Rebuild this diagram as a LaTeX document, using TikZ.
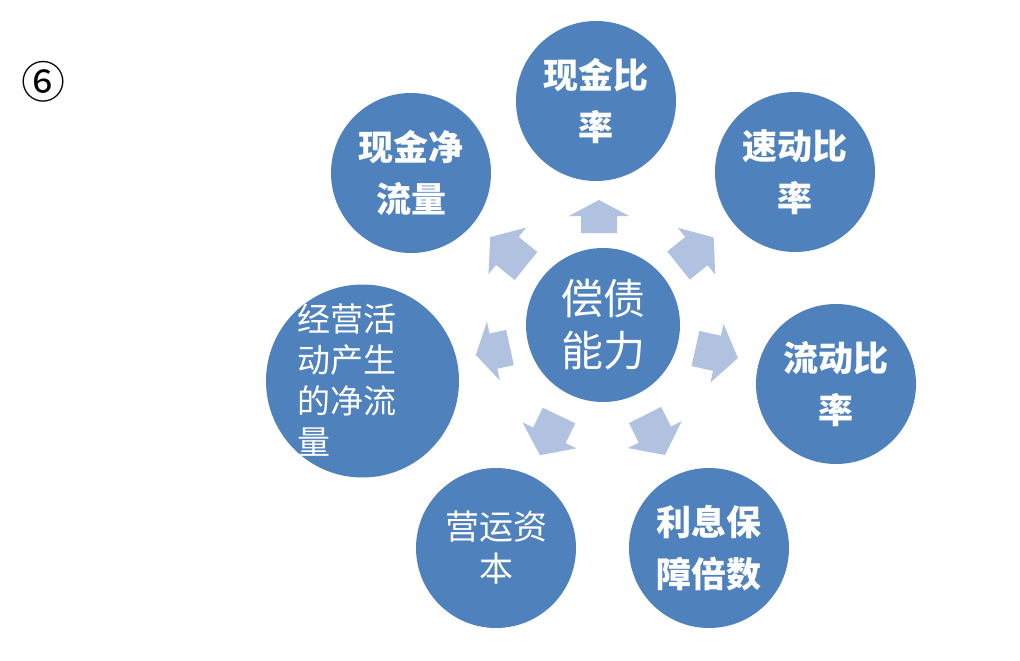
\documentclass[tikz,border=0pt]{standalone}
\usepackage{fontspec}
\newfontfamily\cjk{Noto Sans CJK SC}
\definecolor{circblue}{HTML}{4F81BD}
\definecolor{arrowblue}{HTML}{B0C2DF}
\newcommand\radarrow[5]{%
  \begin{scope}[shift={(#1,-#2)},rotate=#3]
    \fill[arrowblue] (0,-18) -- (#5,-18) -- (#5,-30) -- (#4,0) -- (#5,30) -- (#5,18) -- (0,18) -- cycle;
  \end{scope}}
\tikzset{
  circ/.style={circle, fill=circblue, draw=none, inner sep=0pt, minimum size=160pt,
    text=white, align=center, font=\cjk\bfseries\fontsize{35}{52}\selectfont},
  thintext/.style={text=white, inner sep=0pt, font=\cjk\fontsize{33}{41}\selectfont}
}
\begin{document}
\begin{tikzpicture}[x=1pt,y=1pt]
\fill[white] (0,0) rectangle (1020,-661);
\useasboundingbox (0,0) rectangle (1020,-661);

% arrows
\radarrow{599}{233}{90}{33}{17}
\radarrow{678.5}{265.5}{38.6}{45}{23}
\radarrow{695.5}{348.5}{-12.6}{43.5}{22}
\radarrow{645}{415}{-63.4}{44.7}{22}
\radarrow{559}{415.5}{-115.7}{44}{22}
\radarrow{510}{347.5}{-167.6}{35}{17}
\radarrow{526}{266}{141}{46}{24}

% circles
\node[circ, minimum size=154pt, font=\cjk\fontsize{42}{52}\selectfont] (center) at (603,-325) {偿债\\能力};
\node[circ] (xjbl) at (596,-101) {现金比\\率};
\node[circ] (sdbl) at (795,-172) {速动比\\率};
\node[circ] (ldbl) at (836,-384) {流动比\\率};
\node[circ] (lxbz) at (709,-548) {利息保\\障倍数};
\node[circ, font=\cjk\fontsize{34}{42}\selectfont] (yyzb) at (496,-548) {营运资\\本};
\node[circ, minimum size=193pt] (jyhd) at (362.5,-381) {};
\node[thintext, align=left] (jyhdt) at (347,-380) {经营活\\动产生\\的净流\\量};
\node[circ] (xjjl) at (411,-173) {现金净\\流量};

\node[inner sep=0pt, font=\cjk\fontsize{44}{44}\selectfont] (num) at (43,-82) {⑥};
\end{tikzpicture}
\end{document}
